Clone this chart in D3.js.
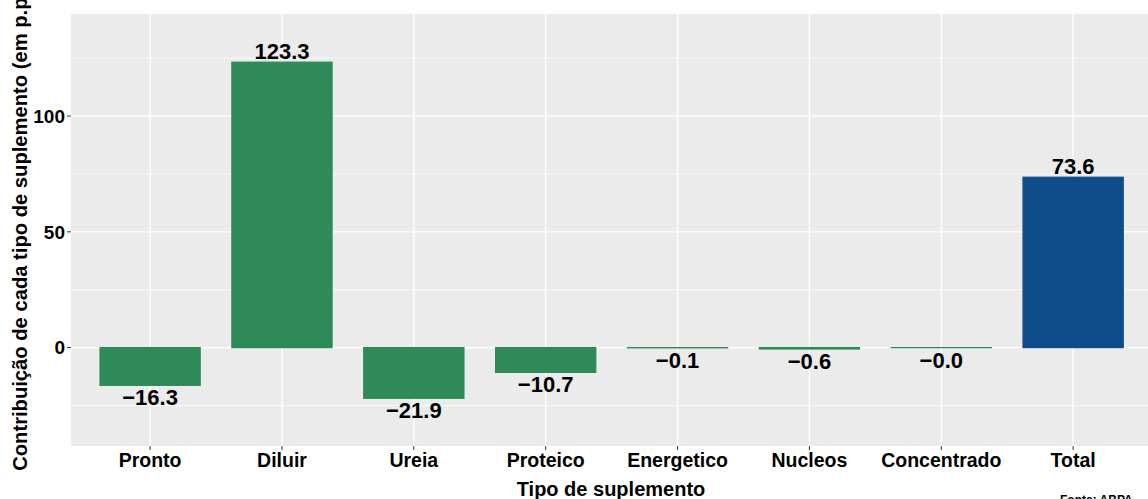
<!DOCTYPE html>
<html>
<head>
<meta charset="utf-8">
<script src="https://cdn.jsdelivr.net/npm/d3@7"></script>
<style>
html,body{margin:0;padding:0;background:#fff;overflow:hidden;}
svg{display:block;font-family:"Liberation Sans",Arial,sans-serif;}
</style>
</head>
<body>
<svg id="chart" width="1148" height="499"></svg>
<script>
const categories = ["Pronto","Diluir","Ureia","Proteico","Energetico","Nucleos","Concentrado","Total"];
const values = [-16.3, 123.3, -21.9, -10.7, -0.1, -0.6, -0.0, 73.6];
const labels = ["\u221216.3","123.3","\u221221.9","\u221210.7","\u22120.1","\u22120.6","\u22120.0","73.6"];
const yTicks = [0, 50, 100];
const yMinor = [-25, 25, 75, 125];
const yTitle = "Contribuição de cada tipo de suplemento (em p.p.)";
const xTitle = "Tipo de suplemento";
const source = "Fonte: ABPA";

const svg = d3.select("#chart");
const panel = {left: 71, top: 14, bottom: 446};
const step = 131.86;
const panelRight = panel.left + step * (categories.length + 1.2);

// band scale: discrete axis expanded by 0.6 units each side (ggplot default)
const x = d3.scaleBand().domain(categories)
  .range([panel.left + 0.1*step, panel.left + 0.1*step + step*categories.length])
  .paddingInner(0.24).paddingOuter(0.12);
const xc = d => x(d) + x.bandwidth()/2;
const bw = x.bandwidth();

const y = d3.scaleLinear().domain([-42.5, 144.1]).range([panel.bottom, panel.top]);

svg.append("rect").attr("x", panel.left).attr("y", panel.top)
  .attr("width", panelRight - panel.left).attr("height", panel.bottom - panel.top)
  .attr("fill", "#EBEBEB");

const g = svg.append("g");
g.selectAll("line.minor").data(yMinor).join("line").attr("class","minor")
  .attr("x1", panel.left).attr("x2", panelRight)
  .attr("y1", d => y(d)).attr("y2", d => y(d))
  .attr("stroke", "#fff").attr("stroke-width", 0.7);
g.selectAll("line.major").data(yTicks).join("line").attr("class","major")
  .attr("x1", panel.left).attr("x2", panelRight)
  .attr("y1", d => y(d)).attr("y2", d => y(d))
  .attr("stroke", "#fff").attr("stroke-width", 1.4);
g.selectAll("line.vmajor").data(categories).join("line").attr("class","vmajor")
  .attr("x1", d => xc(d)).attr("x2", d => xc(d))
  .attr("y1", panel.top).attr("y2", panel.bottom)
  .attr("stroke", "#fff").attr("stroke-width", 1.4);

// bars
svg.selectAll("rect.bar").data(categories).join("rect").attr("class","bar")
  .attr("x", d => xc(d) - bw/2)
  .attr("width", bw)
  .attr("y", (d,i) => y(Math.max(0, values[i])))
  .attr("height", (d,i) => Math.max(0.05, Math.abs(y(values[i]) - y(0))))
  .attr("fill", d => d === "Total" ? "#0F4C8A" : "#2E8B57")
  .attr("stroke", d => d === "Total" ? "#0F4C8A" : "#2E8B57")
  .attr("stroke-width", 1.2);

// value labels
svg.selectAll("text.val").data(categories).join("text").attr("class","val")
  .attr("x", d => xc(d))
  .attr("y", (d,i) => values[i] > 0 ? y(values[i]) - 3 : y(values[i]) + 20)
  .attr("text-anchor", "middle")
  .attr("font-size", 22).attr("font-weight", "bold").attr("fill", "#000")
  .text((d,i) => labels[i]);

// y axis ticks
const ya = svg.append("g");
ya.selectAll("line").data(yTicks).join("line")
  .attr("x1", panel.left - 4).attr("x2", panel.left)
  .attr("y1", d => y(d)).attr("y2", d => y(d))
  .attr("stroke", "#333").attr("stroke-width", 1);
ya.selectAll("text").data(yTicks).join("text")
  .attr("x", panel.left - 6).attr("y", d => y(d)).attr("dy", "0.36em")
  .attr("text-anchor", "end").attr("font-size", 19).attr("font-weight", "bold").attr("fill", "#000")
  .text(d => d);

// x axis ticks
const xa = svg.append("g");
xa.selectAll("line").data(categories).join("line")
  .attr("x1", d => xc(d)).attr("x2", d => xc(d))
  .attr("y1", panel.bottom).attr("y2", panel.bottom + 4)
  .attr("stroke", "#333").attr("stroke-width", 1);
xa.selectAll("text").data(categories).join("text")
  .attr("x", d => xc(d)).attr("y", panel.bottom + 21)
  .attr("text-anchor", "middle").attr("font-size", 19.5).attr("font-weight", "bold").attr("fill", "#000")
  .text(d => d);

// axis titles
svg.append("text")
  .attr("transform", `translate(27, ${(panel.top + panel.bottom)/2 - 2}) rotate(-90)`)
  .attr("text-anchor", "middle").attr("font-size", 20.2).attr("font-weight", "bold").attr("fill", "#000")
  .text(yTitle);
svg.append("text")
  .attr("x", 611).attr("y", 496)
  .attr("text-anchor", "middle").attr("font-size", 20).attr("font-weight", "bold").attr("fill", "#000")
  .text(xTitle);
svg.append("text")
  .attr("x", 1060).attr("y", 504)
  .attr("text-anchor", "start").attr("font-size", 12).attr("font-weight", "bold").attr("fill", "#000")
  .text(source);
</script>
</body>
</html>
